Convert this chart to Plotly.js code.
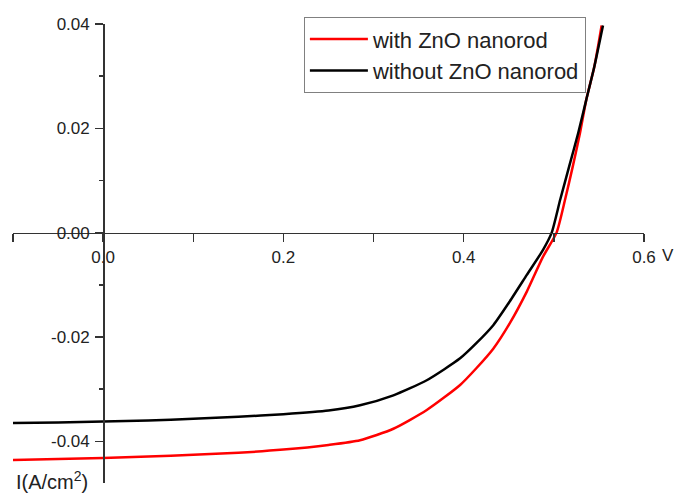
<!DOCTYPE html>
<html>
<head>
<meta charset="utf-8">
<script src="https://cdn.plot.ly/plotly-3.0.1.min.js"></script>
<style>html,body{margin:0;padding:0;background:#fff;}#chart{width:677px;height:494px;}</style>
</head>
<body>
<div id="chart"></div>
<script>
// Voltage (V) and current density (A/cm^2)
var vWith = [-0.1, -0.05, 0, 0.05, 0.1, 0.15, 0.2, 0.25, 0.285, 0.322, 0.359, 0.396, 0.414, 0.433, 0.451, 0.470, 0.488, 0.503, 0.5124, 0.521, 0.529, 0.536, 0.545, 0.553];
var iWith = [-0.0436, -0.0434, -0.0432, -0.0429, -0.0426, -0.0422, -0.0416, -0.0407, -0.0398, -0.0376, -0.0340, -0.0292, -0.0260, -0.0222, -0.0174, -0.0113, -0.0046, 0.0, 0.0063, 0.0127, 0.0191, 0.0255, 0.0319, 0.0397];

var vWithout = [-0.1, -0.05, 0, 0.05, 0.1, 0.15, 0.2, 0.25, 0.285, 0.322, 0.359, 0.396, 0.414, 0.433, 0.451, 0.470, 0.488, 0.4976, 0.507, 0.517, 0.527, 0.536, 0.545, 0.5545];
var iWithout = [-0.0365, -0.0364, -0.0362, -0.0360, -0.0357, -0.0353, -0.0348, -0.0341, -0.0331, -0.0312, -0.0283, -0.0241, -0.0212, -0.0177, -0.0132, -0.0081, -0.0033, 0.0, 0.0063, 0.0127, 0.0191, 0.0255, 0.0319, 0.0397];

var seriesNames = ['with ZnO nanorod', 'without ZnO nanorod'];

var xTickVals = [-0.1, 0, 0.1, 0.2, 0.3, 0.4, 0.5, 0.6];
var xTickText = ['', '0.0', '', '0.2', '', '0.4', '', '0.6'];
var yTickVals = [-0.04, -0.02, 0, 0.02, 0.04];
var yTickText = ['-0.04', '-0.02', '0.00', '0.02', '0.04'];
var yMinorVals = [-0.03, -0.01, 0.01, 0.03];

var xRange = [-0.1, 0.6];
var yRange = [-0.048, 0.04];

var font = 'Liberation Sans, Arial, sans-serif';

var traces = [
  {x: vWith, y: iWith, name: seriesNames[0], mode: 'lines',
   line: {color: '#ff0000', width: 2.5, shape: 'spline', smoothing: 0.6}},
  {x: vWithout, y: iWithout, name: seriesNames[1], mode: 'lines',
   line: {color: '#000000', width: 2.5, shape: 'spline', smoothing: 0.6}}
];

var layout = {
  width: 677, height: 494,
  margin: {l: 13, r: 33, t: 24, b: 11, pad: 0},
  paper_bgcolor: '#fff', plot_bgcolor: '#fff',
  font: {family: font, size: 17, color: '#222'},
  showlegend: true,
  legend: {
    x: 0.461, y: 1.015, xanchor: 'left', yanchor: 'top',
    bgcolor: '#fff', bordercolor: '#808080', borderwidth: 1,
    font: {family: font, size: 22, color: '#222'},
    itemwidth: 58
  },
  xaxis: {
    range: xRange, anchor: 'free',
    position: (0 - yRange[0]) / (yRange[1] - yRange[0]),
    showgrid: false, zeroline: false,
    showline: true, linecolor: '#333', linewidth: 1.5,
    tickmode: 'array', tickvals: xTickVals, ticktext: xTickText,
    ticks: 'outside', ticklen: 8, tickwidth: 1.5, tickcolor: '#333',
    tickfont: {family: font, size: 17, color: '#222'},
    fixedrange: true
  },
  yaxis: {
    range: yRange, anchor: 'free',
    position: (0 - xRange[0]) / (xRange[1] - xRange[0]),
    showgrid: false, zeroline: false,
    showline: true, linecolor: '#333', linewidth: 1.5,
    tickmode: 'array', tickvals: yTickVals, ticktext: yTickText,
    ticks: 'outside', ticklen: 8, tickwidth: 1.5, tickcolor: '#333',
    ticklabelstandoff: 2,
    minor: {tickmode: 'array', tickvals: yMinorVals, ticks: 'outside', ticklen: 4, tickwidth: 1.5, tickcolor: '#333', showgrid: false},
    tickfont: {family: font, size: 17, color: '#222'},
    fixedrange: true
  },
  annotations: [
    {text: 'V', xref: 'x', yref: 'y', x: 0.6, y: 0, xanchor: 'center', yanchor: 'middle',
     xshift: 24, yshift: -23, showarrow: false, font: {family: font, size: 17, color: '#222'}},
    {text: 'I(A/cm<sup>2</sup>)', xref: 'paper', yref: 'y', x: 0, y: yRange[0], xanchor: 'left', yanchor: 'middle',
     xshift: 1, yshift: 3, showarrow: false, font: {family: font, size: 20, color: '#222'}}
  ]
};

Plotly.newPlot('chart', traces, layout, {staticPlot: true, displayModeBar: false});
</script>
</body>
</html>
